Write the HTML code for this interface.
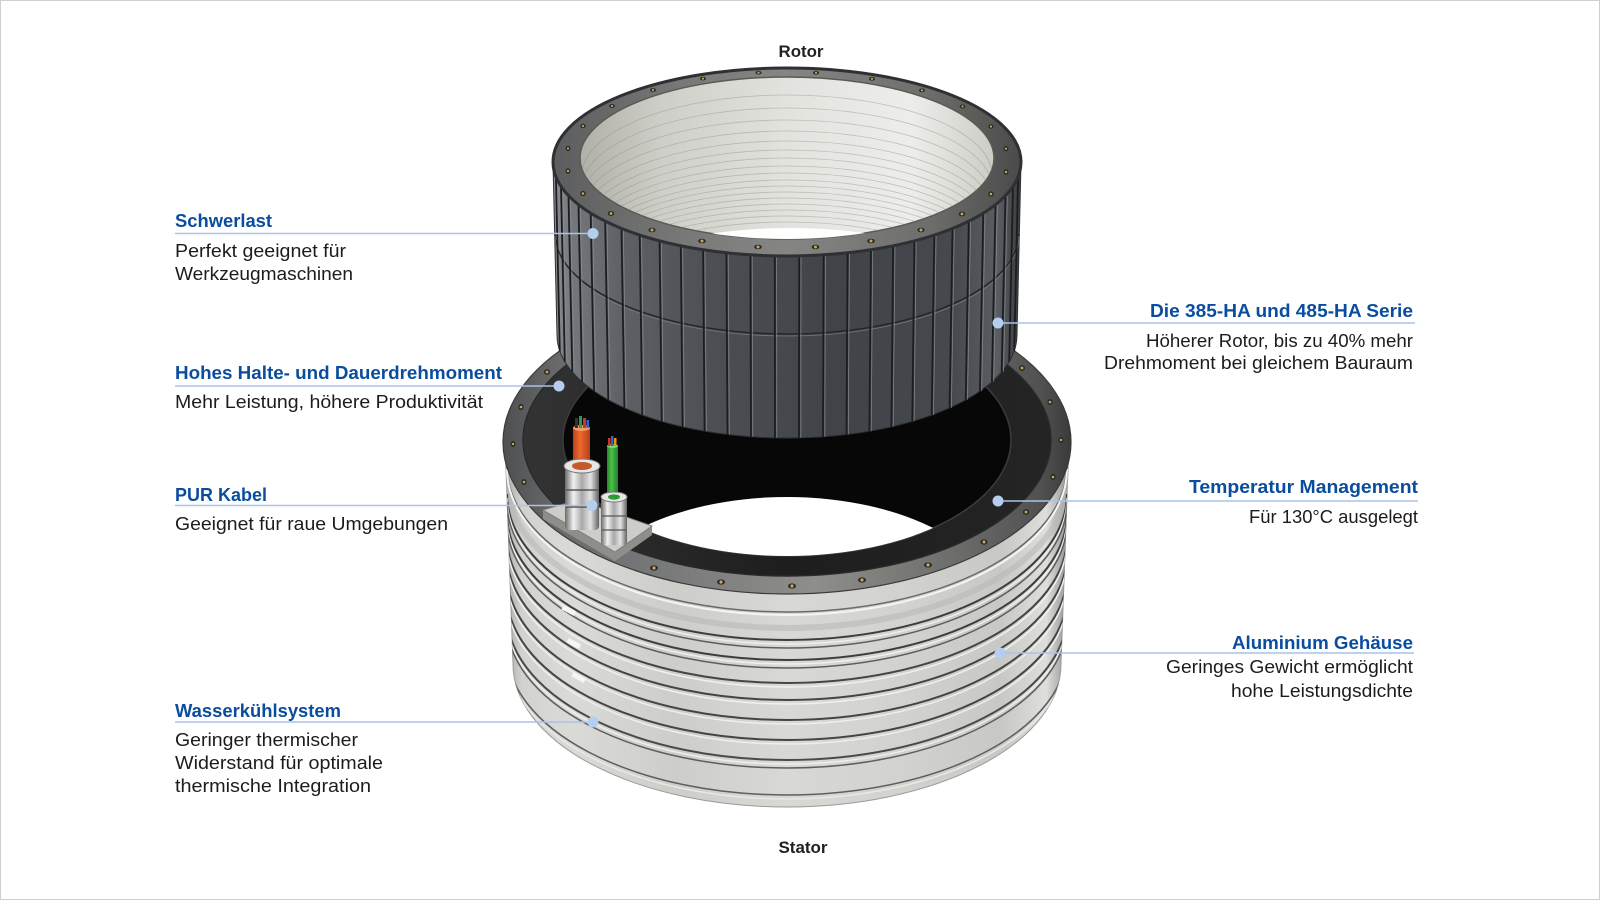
<!DOCTYPE html>
<html><head><meta charset="utf-8"><style>
html,body{margin:0;padding:0;background:#fff;}
svg{display:block;}
.t{font-family:"Liberation Sans",Arial,sans-serif;font-weight:bold;font-size:18px;fill:#0a4d9e;}
.b{font-family:"Liberation Sans",Arial,sans-serif;font-size:18px;fill:#1c1c1c;}
.h{font-family:"Liberation Sans",Arial,sans-serif;font-weight:bold;font-size:17px;fill:#222;}
</style></head><body>
<svg width="1600" height="900" viewBox="0 0 1600 900" xmlns="http://www.w3.org/2000/svg">
<defs>
<linearGradient id="gBody" gradientUnits="userSpaceOnUse" x1="505" y1="0" x2="1069" y2="0">
<stop offset="0" stop-color="#a9a9a6"/><stop offset=".03" stop-color="#d2d2cf"/><stop offset=".12" stop-color="#dadad7"/><stop offset=".3" stop-color="#cdcdca"/><stop offset=".5" stop-color="#d8d8d5"/><stop offset=".7" stop-color="#d2d2cf"/><stop offset=".88" stop-color="#c8c8c5"/><stop offset=".96" stop-color="#dededb"/><stop offset="1" stop-color="#8e8e8c"/>
</linearGradient>
<linearGradient id="gFl" gradientUnits="userSpaceOnUse" x1="503" y1="0" x2="1071" y2="0">
<stop offset="0" stop-color="#4e4f50"/><stop offset=".1" stop-color="#6a6b6c"/><stop offset=".35" stop-color="#7d7e7e"/><stop offset=".55" stop-color="#8e8e8a"/><stop offset=".8" stop-color="#6c6c6a"/><stop offset=".95" stop-color="#505050"/><stop offset="1" stop-color="#3a3a3a"/>
</linearGradient>
<linearGradient id="gBand" gradientUnits="userSpaceOnUse" x1="523" y1="0" x2="1051" y2="0">
<stop offset="0" stop-color="#333"/><stop offset=".5" stop-color="#1e1e1e"/><stop offset="1" stop-color="#242424"/>
</linearGradient>
<linearGradient id="gRot" gradientUnits="userSpaceOnUse" x1="553" y1="0" x2="1021" y2="0">
<stop offset="0" stop-color="#8d9093"/><stop offset=".04" stop-color="#74777b"/><stop offset=".15" stop-color="#5d6064"/><stop offset=".35" stop-color="#4b4e52"/><stop offset=".6" stop-color="#404347"/><stop offset=".85" stop-color="#45484c"/><stop offset=".95" stop-color="#5a5d61"/><stop offset="1" stop-color="#3a3c3f"/>
</linearGradient>
<linearGradient id="gRim" gradientUnits="userSpaceOnUse" x1="553" y1="0" x2="1021" y2="0">
<stop offset="0" stop-color="#5c5d5e"/><stop offset=".3" stop-color="#7a7a79"/><stop offset=".5" stop-color="#858583"/><stop offset=".8" stop-color="#6e6e6c"/><stop offset="1" stop-color="#4a4a4a"/>
</linearGradient>
<linearGradient id="gIn" gradientUnits="userSpaceOnUse" x1="580" y1="0" x2="994" y2="0">
<stop offset="0" stop-color="#b0b0a8"/><stop offset=".2" stop-color="#cfcfc9"/><stop offset=".5" stop-color="#e2e2de"/><stop offset=".8" stop-color="#ededeb"/><stop offset="1" stop-color="#cdcdc6"/>
</linearGradient>
<linearGradient id="gChrome" x1="0" y1="0" x2="1" y2="0">
<stop offset="0" stop-color="#6a6a6a"/><stop offset=".25" stop-color="#f2f2f2"/><stop offset=".5" stop-color="#a8a8a8"/><stop offset=".75" stop-color="#e4e4e4"/><stop offset="1" stop-color="#626262"/>
</linearGradient>
<linearGradient id="gOr" x1="0" y1="0" x2="1" y2="0">
<stop offset="0" stop-color="#b8401a"/><stop offset=".4" stop-color="#ee6a2e"/><stop offset="1" stop-color="#b8401a"/>
</linearGradient>
<linearGradient id="gGr" x1="0" y1="0" x2="1" y2="0">
<stop offset="0" stop-color="#26862a"/><stop offset=".4" stop-color="#4cc048"/><stop offset="1" stop-color="#23802a"/>
</linearGradient>
<clipPath id="cBody"><path d="M505,442 L513,664 A274 143 0 0 0 1061,664 L1069,442 Z"/></clipPath>
<clipPath id="cInner"><ellipse cx="787" cy="440" rx="224" ry="116"/></clipPath>
<clipPath id="cRotIn"><ellipse cx="787" cy="158" rx="207" ry="81"/></clipPath>
</defs>

<rect x="0.5" y="0.5" width="1599" height="899" fill="#fff" stroke="#cfcfcf" stroke-width="1"/>

<!-- STATOR BODY -->
<path d="M505,442 L513,664 A274 143 0 0 0 1061,664 L1069,442 Z" fill="url(#gBody)" stroke="#9a9a98" stroke-width="1"/>
<g clip-path="url(#cBody)" fill="none">
<path d="M507,482 A280 146 0 0 0 1067,482" stroke="#b9b9b6" stroke-width="6" opacity=".6"/>
<path d="M507,466 A280 146 0 0 0 1067,466" stroke="#6a6a68" stroke-width="1.5"/>
<path d="M507,469 A280 146 0 0 0 1067,469" stroke="#f4f4f2" stroke-width="2"/>
<path d="M507,494 A280 146 0 0 0 1067,494" stroke="#3e3e3c" stroke-width="2"/>
<path d="M507,498 A280 146 0 0 0 1067,498" stroke="#eeeeec" stroke-width="1.5"/>
<path d="M507,502 A280 146 0 0 0 1067,502" stroke="#5e5e5c" stroke-width="1.5"/>
<path d="M507,514 A280 146 0 0 0 1067,514" stroke="#3e3e3c" stroke-width="2"/>
<path d="M507,518 A280 146 0 0 0 1067,518" stroke="#f0f0ee" stroke-width="1.5"/>
<path d="M507,522 A280 146 0 0 0 1067,522" stroke="#5e5e5c" stroke-width="1.5"/>
<path d="M507,537 A280 146 0 0 0 1067,537" stroke="#454543" stroke-width="2"/>
<path d="M507,541 A280 146 0 0 0 1067,541" stroke="#f0f0ee" stroke-width="1.5"/>
<path d="M507,554 A280 146 0 0 0 1067,554" stroke="#454543" stroke-width="2"/>
<path d="M507,558 A280 146 0 0 0 1067,558" stroke="#f0f0ee" stroke-width="1.5"/>
<path d="M507,574 A280 146 0 0 0 1067,574" stroke="#454543" stroke-width="2"/>
<path d="M507,578 A280 146 0 0 0 1067,578" stroke="#eeeeec" stroke-width="1.5"/>
<path d="M507,594 A280 146 0 0 0 1067,594" stroke="#454543" stroke-width="2"/>
<path d="M507,598 A280 146 0 0 0 1067,598" stroke="#eeeeec" stroke-width="1.5"/>
<path d="M507,614 A280 146 0 0 0 1067,614" stroke="#4a4a48" stroke-width="2"/>
<path d="M507,618 A280 146 0 0 0 1067,618" stroke="#eeeeec" stroke-width="1.5"/>
<path d="M507,622 A280 146 0 0 0 1067,622" stroke="#5e5e5c" stroke-width="1.5"/>
<path d="M507,649 A280 146 0 0 0 1067,649" stroke="#5e5e5c" stroke-width="1.5"/>
<path d="M507,653 A280 146 0 0 0 1067,653" stroke="#e8e8e6" stroke-width="1.5"/>
</g>
<rect x="562" y="608" width="14" height="5" fill="#f6f6f4" transform="rotate(28 569 610)"/>
<rect x="567" y="641" width="14" height="5" fill="#f6f6f4" transform="rotate(28 574 643)"/>
<rect x="572" y="675" width="14" height="5" fill="#f6f6f4" transform="rotate(28 579 677)"/>

<!-- FLANGE -->
<ellipse cx="787" cy="442" rx="284" ry="152" fill="url(#gFl)" stroke="#3a3a3a" stroke-width="1.2"/>
<ellipse cx="787" cy="440" rx="264" ry="136" fill="url(#gBand)" stroke="#2a2a2a" stroke-width="1.5"/>
<ellipse cx="787" cy="440" rx="224" ry="116" fill="#070707" stroke="#3c3c3c" stroke-width="1.5"/>
<g clip-path="url(#cInner)"><ellipse cx="787" cy="612" rx="214" ry="115" fill="#fff"/></g>
<g fill="#2a2a2a">
<ellipse cx="792" cy="586" rx="4" ry="2.6"/><ellipse cx="862" cy="580" rx="4" ry="2.6"/><ellipse cx="928" cy="565" rx="4" ry="2.6"/><ellipse cx="984" cy="542" rx="3.6" ry="2.6"/><ellipse cx="1026" cy="512" rx="3.2" ry="2.8"/><ellipse cx="1053" cy="477" rx="2.6" ry="3"/><ellipse cx="1061" cy="440" rx="2.4" ry="3"/><ellipse cx="1050" cy="402" rx="2.6" ry="3"/><ellipse cx="1022" cy="368" rx="3" ry="2.8"/>
<ellipse cx="721" cy="582" rx="4" ry="2.6"/><ellipse cx="654" cy="568" rx="4" ry="2.6"/><ellipse cx="597" cy="546" rx="3.6" ry="2.6"/><ellipse cx="552" cy="516" rx="3.2" ry="2.8"/><ellipse cx="524" cy="482" rx="2.6" ry="3"/><ellipse cx="513" cy="444" rx="2.4" ry="3"/><ellipse cx="521" cy="407" rx="2.6" ry="3"/><ellipse cx="547" cy="372" rx="3" ry="2.8"/>
</g>
<g fill="#c9aa52">
<circle cx="792" cy="586" r="1.6"/><circle cx="862" cy="580" r="1.6"/><circle cx="928" cy="565" r="1.6"/><circle cx="984" cy="542" r="1.5"/><circle cx="1026" cy="512" r="1.4"/><circle cx="1053" cy="477" r="1.3"/><circle cx="1061" cy="440" r="1.2"/><circle cx="1050" cy="402" r="1.3"/><circle cx="1022" cy="368" r="1.4"/>
<circle cx="721" cy="582" r="1.6"/><circle cx="654" cy="568" r="1.6"/><circle cx="597" cy="546" r="1.5"/><circle cx="552" cy="516" r="1.4"/><circle cx="524" cy="482" r="1.3"/><circle cx="513" cy="444" r="1.2"/><circle cx="521" cy="407" r="1.3"/><circle cx="547" cy="372" r="1.4"/>
</g>

<!-- ROTOR -->
<path d="M553,162 L557,335 A230 103 0 0 0 1017,335 L1021,162 Z" fill="url(#gRot)" stroke="#2e3033" stroke-width="1"/>
<path d="M555,234 A232 100 0 0 0 1019,234" fill="none" stroke="#26282b" stroke-width="1.6"/>
<path d="M555,236 A232 100 0 0 0 1019,236" fill="none" stroke="#76797d" stroke-width=".8"/>
<g stroke="#1c1d20" stroke-width="1.8">
<line x1="1018.1" y1="176.7" x2="1014.2" y2="351.1"/><line x1="1013.0" y1="186.3" x2="1009.2" y2="361.7"/><line x1="1005.5" y1="195.7" x2="1001.7" y2="371.9"/><line x1="995.5" y1="204.7" x2="991.9" y2="381.8"/><line x1="983.3" y1="213.2" x2="979.9" y2="391.1"/><line x1="968.8" y1="221.2" x2="965.7" y2="399.8"/><line x1="952.5" y1="228.5" x2="949.6" y2="407.8"/><line x1="934.3" y1="235.0" x2="931.7" y2="415.0"/><line x1="914.4" y1="240.8" x2="912.3" y2="421.4"/><line x1="893.2" y1="245.8" x2="891.4" y2="426.8"/><line x1="870.9" y1="249.8" x2="869.4" y2="431.2"/><line x1="847.6" y1="252.8" x2="846.5" y2="434.5"/><line x1="823.6" y1="254.8" x2="823.0" y2="436.7"/><line x1="799.2" y1="255.9" x2="799.0" y2="437.9"/><line x1="774.8" y1="255.9" x2="775.0" y2="437.9"/><line x1="750.4" y1="254.8" x2="751.0" y2="436.7"/><line x1="726.4" y1="252.8" x2="727.5" y2="434.5"/><line x1="703.1" y1="249.8" x2="704.6" y2="431.2"/><line x1="680.8" y1="245.8" x2="682.6" y2="426.8"/><line x1="659.6" y1="240.8" x2="661.7" y2="421.4"/><line x1="639.7" y1="235.0" x2="642.3" y2="415.0"/><line x1="621.5" y1="228.5" x2="624.4" y2="407.8"/><line x1="605.2" y1="221.2" x2="608.3" y2="399.8"/><line x1="590.7" y1="213.2" x2="594.1" y2="391.1"/><line x1="578.5" y1="204.7" x2="582.1" y2="381.8"/><line x1="568.5" y1="195.7" x2="572.3" y2="371.9"/><line x1="561.0" y1="186.3" x2="564.8" y2="361.7"/><line x1="555.9" y1="176.7" x2="559.8" y2="351.1"/>
</g>
<g stroke="#8a8d91" stroke-width=".8" opacity=".85" transform="translate(1.8 0)">
<line x1="1005.5" y1="195.7" x2="1001.7" y2="371.9"/><line x1="995.5" y1="204.7" x2="991.9" y2="381.8"/><line x1="983.3" y1="213.2" x2="979.9" y2="391.1"/><line x1="968.8" y1="221.2" x2="965.7" y2="399.8"/><line x1="952.5" y1="228.5" x2="949.6" y2="407.8"/><line x1="934.3" y1="235.0" x2="931.7" y2="415.0"/><line x1="914.4" y1="240.8" x2="912.3" y2="421.4"/><line x1="893.2" y1="245.8" x2="891.4" y2="426.8"/><line x1="870.9" y1="249.8" x2="869.4" y2="431.2"/><line x1="847.6" y1="252.8" x2="846.5" y2="434.5"/><line x1="823.6" y1="254.8" x2="823.0" y2="436.7"/><line x1="799.2" y1="255.9" x2="799.0" y2="437.9"/><line x1="774.8" y1="255.9" x2="775.0" y2="437.9"/><line x1="750.4" y1="254.8" x2="751.0" y2="436.7"/><line x1="726.4" y1="252.8" x2="727.5" y2="434.5"/><line x1="703.1" y1="249.8" x2="704.6" y2="431.2"/><line x1="680.8" y1="245.8" x2="682.6" y2="426.8"/><line x1="659.6" y1="240.8" x2="661.7" y2="421.4"/><line x1="639.7" y1="235.0" x2="642.3" y2="415.0"/><line x1="621.5" y1="228.5" x2="624.4" y2="407.8"/><line x1="605.2" y1="221.2" x2="608.3" y2="399.8"/><line x1="590.7" y1="213.2" x2="594.1" y2="391.1"/><line x1="578.5" y1="204.7" x2="582.1" y2="381.8"/><line x1="568.5" y1="195.7" x2="572.3" y2="371.9"/><line x1="561.0" y1="186.3" x2="564.8" y2="361.7"/>
</g>
<!-- rotor top rim -->
<ellipse cx="787" cy="162" rx="234" ry="94" fill="url(#gRim)" stroke="#2f3033" stroke-width="3"/>
<ellipse cx="787" cy="158" rx="207" ry="81" fill="url(#gIn)" stroke="#5a5a54" stroke-width="1.5"/>
<g clip-path="url(#cRotIn)" fill="none" stroke="#8e8e86" stroke-width=".8" opacity=".45">
<path d="M582,175 A205 80 0 0 1 992,175"/><path d="M582,188 A205 80 0 0 1 992,188"/><path d="M582,200 A205 80 0 0 1 992,200"/><path d="M582,211 A205 80 0 0 1 992,211"/><path d="M582,221 A205 80 0 0 1 992,221"/><path d="M582,230 A205 80 0 0 1 992,230"/><path d="M582,238 A205 80 0 0 1 992,238"/><path d="M582,246 A205 80 0 0 1 992,246"/><path d="M582,253 A205 80 0 0 1 992,253"/><path d="M582,260 A205 80 0 0 1 992,260"/><path d="M582,266 A205 80 0 0 1 992,266"/><path d="M582,272 A205 80 0 0 1 992,272"/><path d="M582,278 A205 80 0 0 1 992,278"/><path d="M582,284 A205 80 0 0 1 992,284"/><path d="M582,290 A205 80 0 0 1 992,290"/><path d="M582,296 A205 80 0 0 1 992,296"/><path d="M582,302 A205 80 0 0 1 992,302"/>
</g>
<g clip-path="url(#cRotIn)"><ellipse cx="790" cy="310" rx="215" ry="82" fill="#fff"/></g>
<g fill="#2a2a2a">
<ellipse cx="1006" cy="172" rx="2.4" ry="2.8"/><ellipse cx="991" cy="194" rx="2.8" ry="2.6"/><ellipse cx="962" cy="214" rx="3.2" ry="2.4"/><ellipse cx="921" cy="230" rx="3.6" ry="2.3"/><ellipse cx="871" cy="241" rx="3.8" ry="2.3"/><ellipse cx="815.5" cy="247" rx="3.8" ry="2.3"/><ellipse cx="758" cy="247" rx="3.8" ry="2.3"/><ellipse cx="702" cy="241" rx="3.8" ry="2.3"/><ellipse cx="652" cy="230" rx="3.6" ry="2.3"/><ellipse cx="611" cy="213.5" rx="3.2" ry="2.4"/><ellipse cx="583" cy="193.5" rx="2.8" ry="2.6"/><ellipse cx="568" cy="171" rx="2.4" ry="2.8"/><ellipse cx="568" cy="148.5" rx="2.4" ry="2.6"/><ellipse cx="583" cy="126" rx="2.6" ry="2.2"/><ellipse cx="612" cy="106" rx="2.8" ry="2"/><ellipse cx="653" cy="90" rx="3" ry="1.9"/><ellipse cx="703" cy="78.6" rx="3" ry="1.8"/><ellipse cx="758.5" cy="72.7" rx="3" ry="1.8"/><ellipse cx="816" cy="72.8" rx="3" ry="1.8"/><ellipse cx="872" cy="78.8" rx="3" ry="1.8"/><ellipse cx="922" cy="90.3" rx="3" ry="1.9"/><ellipse cx="962.6" cy="106.5" rx="2.8" ry="2"/><ellipse cx="991" cy="126.5" rx="2.6" ry="2.2"/><ellipse cx="1006" cy="148.7" rx="2.4" ry="2.6"/>
</g>
<g fill="#c9aa52">
<circle cx="1006" cy="172" r="1.2"/><circle cx="991" cy="194" r="1.3"/><circle cx="962" cy="214" r="1.4"/><circle cx="921" cy="230" r="1.5"/><circle cx="871" cy="241" r="1.5"/><circle cx="815.5" cy="247" r="1.5"/><circle cx="758" cy="247" r="1.5"/><circle cx="702" cy="241" r="1.5"/><circle cx="652" cy="230" r="1.5"/><circle cx="611" cy="213.5" r="1.4"/><circle cx="583" cy="193.5" r="1.3"/><circle cx="568" cy="171" r="1.2"/><circle cx="568" cy="148.5" r="1.1"/><circle cx="583" cy="126" r="1.1"/><circle cx="612" cy="106" r="1.1"/><circle cx="653" cy="90" r="1.1"/><circle cx="703" cy="78.6" r="1.1"/><circle cx="758.5" cy="72.7" r="1.1"/><circle cx="816" cy="72.8" r="1.1"/><circle cx="872" cy="78.8" r="1.1"/><circle cx="922" cy="90.3" r="1.1"/><circle cx="962.6" cy="106.5" r="1.1"/><circle cx="991" cy="126.5" r="1.1"/><circle cx="1006" cy="148.7" r="1.1"/>
</g>

<!-- CABLE BRACKET / GLANDS -->
<polygon points="543,510 543,519 615,561 652,535 652,526 615,552" fill="#8e8e8a"/>
<polygon points="543,510 578,500 652,526 615,552" fill="#cdcdc9" stroke="#7e7e7a" stroke-width="1"/>
<rect x="573" y="428" width="17" height="42" fill="url(#gOr)"/>
<ellipse cx="581.5" cy="428" rx="8.5" ry="3" fill="#f39a66"/>
<rect x="575" y="418" width="3" height="10" fill="#333"/><rect x="579" y="416" width="3" height="12" fill="#2a9a4a"/><rect x="583" y="418" width="3" height="10" fill="#c33"/><rect x="586.5" y="420" width="2.5" height="8" fill="#36c"/>
<rect x="565" y="466" width="34" height="64" rx="4" fill="url(#gChrome)"/>
<ellipse cx="582" cy="466" rx="18" ry="7" fill="#e6e6e6" stroke="#777" stroke-width="1"/>
<ellipse cx="582" cy="466" rx="10" ry="4" fill="#c45a2a"/>
<line x1="566" y1="490" x2="598" y2="490" stroke="#555" stroke-width="1.5"/>
<line x1="566" y1="507" x2="598" y2="507" stroke="#555" stroke-width="1.5"/>
<rect x="607" y="446" width="11" height="55" fill="url(#gGr)"/>
<ellipse cx="612.5" cy="446" rx="5.5" ry="2" fill="#7adc70"/>
<rect x="608" y="438" width="2.5" height="8" fill="#c33"/><rect x="611" y="436" width="2.5" height="10" fill="#36c"/><rect x="614" y="438" width="2.5" height="8" fill="#e90"/>
<rect x="601" y="497" width="26" height="48" rx="3" fill="url(#gChrome)"/>
<ellipse cx="614" cy="497" rx="13" ry="5" fill="#e6e6e6" stroke="#777" stroke-width="1"/>
<ellipse cx="614" cy="497" rx="6" ry="2.6" fill="#2e9a34"/>
<line x1="602" y1="516" x2="626" y2="516" stroke="#555" stroke-width="1.3"/>
<line x1="602" y1="530" x2="626" y2="530" stroke="#555" stroke-width="1.3"/>

<!-- CALLOUT LINES -->
<g stroke="#a8c4e8" stroke-width="1.6">
<line x1="175" y1="233.5" x2="593" y2="233.5"/>
<line x1="175" y1="386" x2="559" y2="386"/>
<line x1="175" y1="505.5" x2="592" y2="505.5"/>
<line x1="175" y1="722" x2="593" y2="722"/>
<line x1="998" y1="323" x2="1415" y2="323"/>
<line x1="998" y1="501" x2="1418" y2="501"/>
<line x1="1000" y1="653" x2="1414" y2="653"/>
</g>
<g fill="#b5cdee">
<circle cx="593" cy="233.5" r="5.5"/><circle cx="559" cy="386" r="5.5"/><circle cx="592" cy="505.5" r="5.5"/><circle cx="593" cy="722" r="5.5"/>
<circle cx="998" cy="323" r="5.5"/><circle cx="998" cy="501" r="5.5"/><circle cx="1000" cy="653" r="5.5"/>
</g>

<!-- TEXT -->
<text class="h" x="801" y="57" text-anchor="middle" textLength="45" lengthAdjust="spacingAndGlyphs">Rotor</text>
<text class="h" x="803" y="853" text-anchor="middle" textLength="49" lengthAdjust="spacingAndGlyphs">Stator</text>

<text class="t" x="175" y="227" textLength="97" lengthAdjust="spacingAndGlyphs">Schwerlast</text>
<text class="b" x="175" y="257" textLength="171" lengthAdjust="spacingAndGlyphs">Perfekt geeignet für</text>
<text class="b" x="175" y="280" textLength="178" lengthAdjust="spacingAndGlyphs">Werkzeugmaschinen</text>

<text class="t" x="175" y="379" textLength="327" lengthAdjust="spacingAndGlyphs">Hohes Halte- und Dauerdrehmoment</text>
<text class="b" x="175" y="408" textLength="308" lengthAdjust="spacingAndGlyphs">Mehr Leistung, höhere Produktivität</text>

<text class="t" x="175" y="501" textLength="92" lengthAdjust="spacingAndGlyphs">PUR Kabel</text>
<text class="b" x="175" y="530" textLength="273" lengthAdjust="spacingAndGlyphs">Geeignet für raue Umgebungen</text>

<text class="t" x="175" y="717" textLength="166" lengthAdjust="spacingAndGlyphs">Wasserkühlsystem</text>
<text class="b" x="175" y="746" textLength="183" lengthAdjust="spacingAndGlyphs">Geringer thermischer</text>
<text class="b" x="175" y="769" textLength="208" lengthAdjust="spacingAndGlyphs">Widerstand für optimale</text>
<text class="b" x="175" y="792" textLength="196" lengthAdjust="spacingAndGlyphs">thermische Integration</text>

<text class="t" x="1413" y="317" text-anchor="end" textLength="263" lengthAdjust="spacingAndGlyphs">Die 385-HA und 485-HA Serie</text>
<text class="b" x="1413" y="347" text-anchor="end" textLength="267" lengthAdjust="spacingAndGlyphs">Höherer Rotor, bis zu 40% mehr</text>
<text class="b" x="1413" y="369" text-anchor="end" textLength="309" lengthAdjust="spacingAndGlyphs">Drehmoment bei gleichem Bauraum</text>

<text class="t" x="1418" y="493" text-anchor="end" textLength="229" lengthAdjust="spacingAndGlyphs">Temperatur Management</text>
<text class="b" x="1418" y="523" text-anchor="end" textLength="169" lengthAdjust="spacingAndGlyphs">Für 130°C ausgelegt</text>

<text class="t" x="1413" y="649" text-anchor="end" textLength="181" lengthAdjust="spacingAndGlyphs">Aluminium Gehäuse</text>
<text class="b" x="1413" y="673" text-anchor="end" textLength="247" lengthAdjust="spacingAndGlyphs">Geringes Gewicht ermöglicht</text>
<text class="b" x="1413" y="697" text-anchor="end" textLength="182" lengthAdjust="spacingAndGlyphs">hohe Leistungsdichte</text>
</svg>
</body></html>
